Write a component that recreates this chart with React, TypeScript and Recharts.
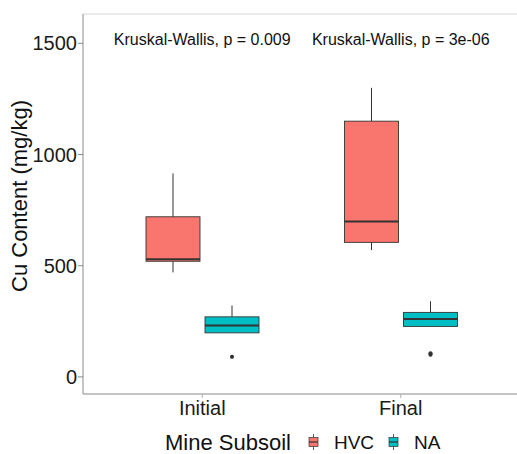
import React from 'react';
import { ComposedChart, Bar, XAxis, YAxis, ReferenceDot, ReferenceLine, Legend } from 'recharts';

const FONT = '"Liberation Sans", Arial, sans-serif';

const categories = ['Initial', 'Final'];
const groups = ['HVC', 'NA'];
const groupColors = ['#F8766D', '#00BFC4'];

// box summaries (whisker low, q1, median, q3, whisker high)
const hvcLow = [470, 570];
const hvcQ1 = [520, 605];
const hvcMedian = [529, 699];
const hvcQ3 = [720, 1150];
const hvcHigh = [915, 1300];
const hvcOutliers: number[][] = [[], []];

const naLow = [198, 227];
const naQ1 = [198, 227];
const naMedian = [231, 260];
const naQ3 = [270, 290];
const naHigh = [321, 340];
const naOutliers: number[][] = [[90], [100, 106]];

const pLabels = ['Kruskal-Wallis, p = 0.009', 'Kruskal-Wallis, p = 3e-06'];
const yTicks = [0, 500, 1000, 1500];

const Y_MIN = -77;
const Y_MAX = 1632;
const LABEL_Y = 1520;

const summary = (lo: number[], q1: number[], med: number[], q3: number[], hi: number[], out: number[][], i: number) => ({
  lo: lo[i], q1: q1[i], med: med[i], q3: q3[i], hi: hi[i], out: out[i],
});

const data = categories.map((name, i) => ({
  name,
  HVC: [hvcQ1[i], hvcQ3[i]],
  NA: [naQ1[i], naQ3[i]],
  HVCstats: summary(hvcLow, hvcQ1, hvcMedian, hvcQ3, hvcHigh, hvcOutliers, i),
  NAstats: summary(naLow, naQ1, naMedian, naQ3, naHigh, naOutliers, i),
}));

const INK = '#333333';

// the bar covers q1..q3; whiskers and median use the same linear scale
const BoxShape = (props: any) => {
  const { x, y, width, height, payload, fill, statsKey } = props;
  const s = payload[statsKey];
  const k = height / (s.q3 - s.q1);
  const py = (v: number) => y + (s.q3 - v) * k;
  const cx = x + width / 2;
  return (
    <g>
      <line x1={cx} x2={cx} y1={py(s.hi)} y2={py(s.q3)} stroke={INK} strokeWidth={1} />
      <line x1={cx} x2={cx} y1={py(s.q1)} y2={py(s.lo)} stroke={INK} strokeWidth={1} />
      <rect x={x} y={y} width={width} height={height} fill={fill} stroke={INK} strokeWidth={0.9} />
      <line x1={x} x2={x + width} y1={py(s.med)} y2={py(s.med)} stroke={INK} strokeWidth={2} />
      {s.out.map((v: number, j: number) => (
        <circle key={j} cx={cx} cy={py(v)} r={2.1} fill={INK} />
      ))}
    </g>
  );
};

const KeyGlyph = ({ color }: { color: string }) => (
  <svg width={11} height={18} style={{ display: 'block' }}>
    <line x1={5.5} x2={5.5} y1={1} y2={17} stroke={INK} strokeWidth={0.8} />
    <rect x={1} y={4.5} width={9} height={9} fill={color} stroke={INK} strokeWidth={0.7} />
    <line x1={1} x2={10} y1={9} y2={9} stroke={INK} strokeWidth={1.2} />
  </svg>
);

const LegendContent = () => (
  <div style={{ display: 'flex', alignItems: 'center', height: 24, lineHeight: 1, color: '#111', fontFamily: FONT }}>
    <span style={{ fontSize: 22, marginRight: 17, paddingTop: 2 }}>Mine Subsoil</span>
    {groups.map((g, i) => (
      <span key={g} style={{ display: 'flex', alignItems: 'center', marginRight: 14 }}>
        <KeyGlyph color={groupColors[i]} />
        <span style={{ fontSize: 19, marginLeft: 15 }}>{g}</span>
      </span>
    ))}
  </div>
);

const YTitle = (props: any) => {
  const vb = props.viewBox;
  const px = vb.x + 27;
  const py = vb.y + vb.height / 2 - 8;
  return (
    <text x={px} y={py} transform={`rotate(-90, ${px}, ${py})`} textAnchor="middle" fontSize={22} fill="#111">
      Cu Content (mg/kg)
    </text>
  );
};

export default function App() {
  return (
    <div style={{ position: 'fixed', left: 0, top: 0, width: 517, height: 454, overflow: 'hidden', background: '#fff', fontFamily: FONT }}>
      <ComposedChart width={540} height={454} data={data} margin={{ top: 14, right: 20, bottom: 0, left: 0 }} barSize={54} barGap={5}>
        <XAxis
          dataKey="name"
          height={60}
          padding={{ left: 20, right: 20 }}
          axisLine={{ stroke: '#8a8a8a' }}
          tickLine={{ stroke: '#b0b0b0' }}
          tickSize={4}
          tickMargin={3}
          tick={{ fontSize: 20, fill: '#1a1a1a' }}
        />
        <YAxis
          type="number"
          domain={[Y_MIN, Y_MAX]}
          ticks={yTicks}
          width={83}
          axisLine={{ stroke: '#8a8a8a' }}
          tickLine={{ stroke: '#8a8a8a' }}
          tickSize={5}
          tickMargin={1}
          tick={{ fontSize: 20, fill: '#1a1a1a' }}
          label={{ content: (p: any) => <YTitle {...p} /> }}
        />
        <ReferenceLine y={Y_MAX} stroke="#d6d6d6" strokeWidth={1} />
        {groups.map((g, i) => (
          <Bar
            key={g}
            dataKey={g}
            fill={groupColors[i]}
            isAnimationActive={false}
            shape={(p: any) => <BoxShape {...p} statsKey={`${g}stats`} />}
          />
        ))}
        {categories.map((c, i) => (
          <ReferenceDot
            key={c}
            x={c}
            y={LABEL_Y}
            r={0}
            fill="none"
            stroke="none"
            label={{ value: pLabels[i], position: 'center', fontSize: 16, fill: '#111' }}
          />
        ))}
        <Legend
          layout="horizontal"
          verticalAlign="middle"
          align="center"
          content={() => <LegendContent />}
          wrapperStyle={{ left: 165, top: 430, width: 340, height: 24 }}
        />
      </ComposedChart>
    </div>
  );
}
